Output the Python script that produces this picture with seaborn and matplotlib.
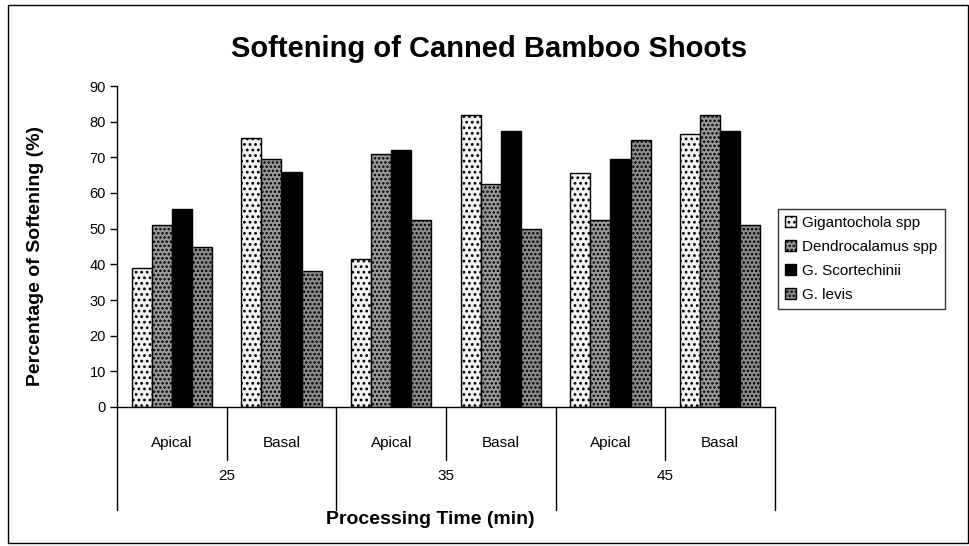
import pandas as pd
import matplotlib.pyplot as plt
import seaborn as sns
from matplotlib.patches import Rectangle
from matplotlib.lines import Line2D
from matplotlib.transforms import blended_transform_factory

# Data
times = ['25', '35', '45']
parts = ['Apical', 'Basal']
species = ['Gigantochola spp', 'Dendrocalamus spp', 'G. Scortechinii', 'G. levis']
gigantochola = [39, 75.5, 41.5, 82, 65.5, 76.5]
dendrocalamus = [51, 69.5, 71, 62.5, 52.5, 82]
scortechinii = [55.5, 66, 72, 77.5, 69.5, 77.5]
levis = [45, 38, 52.5, 50, 75, 51]

cats = [t + ' ' + p for t in times for p in parts]
rows = []
for name, vals in zip(species, [gigantochola, dendrocalamus, scortechinii, levis]):
    for c, v in zip(cats, vals):
        rows.append({'cat': c, 'species': name, 'value': v})
df = pd.DataFrame(rows)

sns.set_style('white')
plt.rcParams['font.family'] = ['Liberation Sans', 'DejaVu Sans']
plt.rcParams['text.color'] = 'black'
plt.rcParams['ytick.color'] = 'black'
plt.rcParams['hatch.linewidth'] = 1.2

W, H = 970, 546
fig = plt.figure(figsize=(9.7, 5.46), dpi=100)
ax = fig.add_axes([117/W, 1 - 407/H, (775 - 117)/W, (407 - 86)/H])

sns.barplot(data=df, x='cat', y='value', hue='species', order=cats, hue_order=species,
            width=0.73, legend=False, ax=ax, gap=0)

# grayscale stipple styles
styles = [('#f2f2f2', '...'), ('#9a9a9a', '....'), ('#000000', None), ('#8c8c8c', '....')]
for cont, (fc, h) in zip(ax.containers, styles):
    for bar in cont:
        bar.set_facecolor(fc)
        bar.set_edgecolor('black')
        bar.set_linewidth(1.0)
        if h:
            bar.set_hatch(h)

ax.set_ylim(0, 90)
ax.set_xlim(-0.5, 5.5)
ax.set_yticks(range(0, 91, 10))
ax.tick_params(axis='y', direction='out', length=5, width=1, color='black', labelsize=10.5,
               left=True, pad=3)
ax.set_xticks([])
ax.set_xlabel('')
ax.set_ylabel('')
for s in ['top', 'right']:
    ax.spines[s].set_visible(False)
for s in ['left', 'bottom']:
    ax.spines[s].set_color('black')
    ax.spines[s].set_linewidth(1)

# two-level category axis
tr = blended_transform_factory(ax.transData, fig.transFigure)
y0 = 1 - 407/H
for x in [-0.5, 1.5, 3.5, 5.5]:
    fig.add_artist(Line2D([x, x], [y0, 1 - 510/H], transform=tr, color='black', lw=1))
for x in [0.5, 2.5, 4.5]:
    fig.add_artist(Line2D([x, x], [y0, 1 - 460/H], transform=tr, color='black', lw=1))
for i, c in enumerate(cats):
    fig.text(i, 1 - 443/H, c.split(' ')[1], transform=tr, ha='center', va='center', fontsize=11)
for j, t in enumerate(times):
    fig.text(2*j + 0.5, 1 - 476/H, t, transform=tr, ha='center', va='center', fontsize=11)

fig.text(489/W, 1 - 57/H, 'Softening of Canned Bamboo Shoots', ha='center', va='baseline',
         fontsize=21, fontweight='bold')
fig.text(430/W, 1 - 520/H, 'Processing Time (min)', ha='center', va='center',
         fontsize=14, fontweight='bold')
fig.text(36/W, 1 - 256/H, 'Percentage of Softening (%)', ha='center', va='center',
         rotation=90, fontsize=14, fontweight='bold')

leg = ax.legend(ax.containers, species, loc='upper left', bbox_to_anchor=(778/W, 1 - 209/H),
                bbox_transform=fig.transFigure, frameon=True, fancybox=False, fontsize=11,
                handlelength=0.75, handleheight=0.75, handletextpad=0.4, labelspacing=0.65,
                borderpad=0.45, borderaxespad=0)
leg.get_frame().set_edgecolor('black')
leg.get_frame().set_linewidth(1)

# outer chart border
fig.add_artist(Rectangle((8/W, 3/H), 960/W, 538/H, transform=fig.transFigure,
                         fill=False, edgecolor='black', lw=1))

plt.savefig('out.png', dpi=100)
